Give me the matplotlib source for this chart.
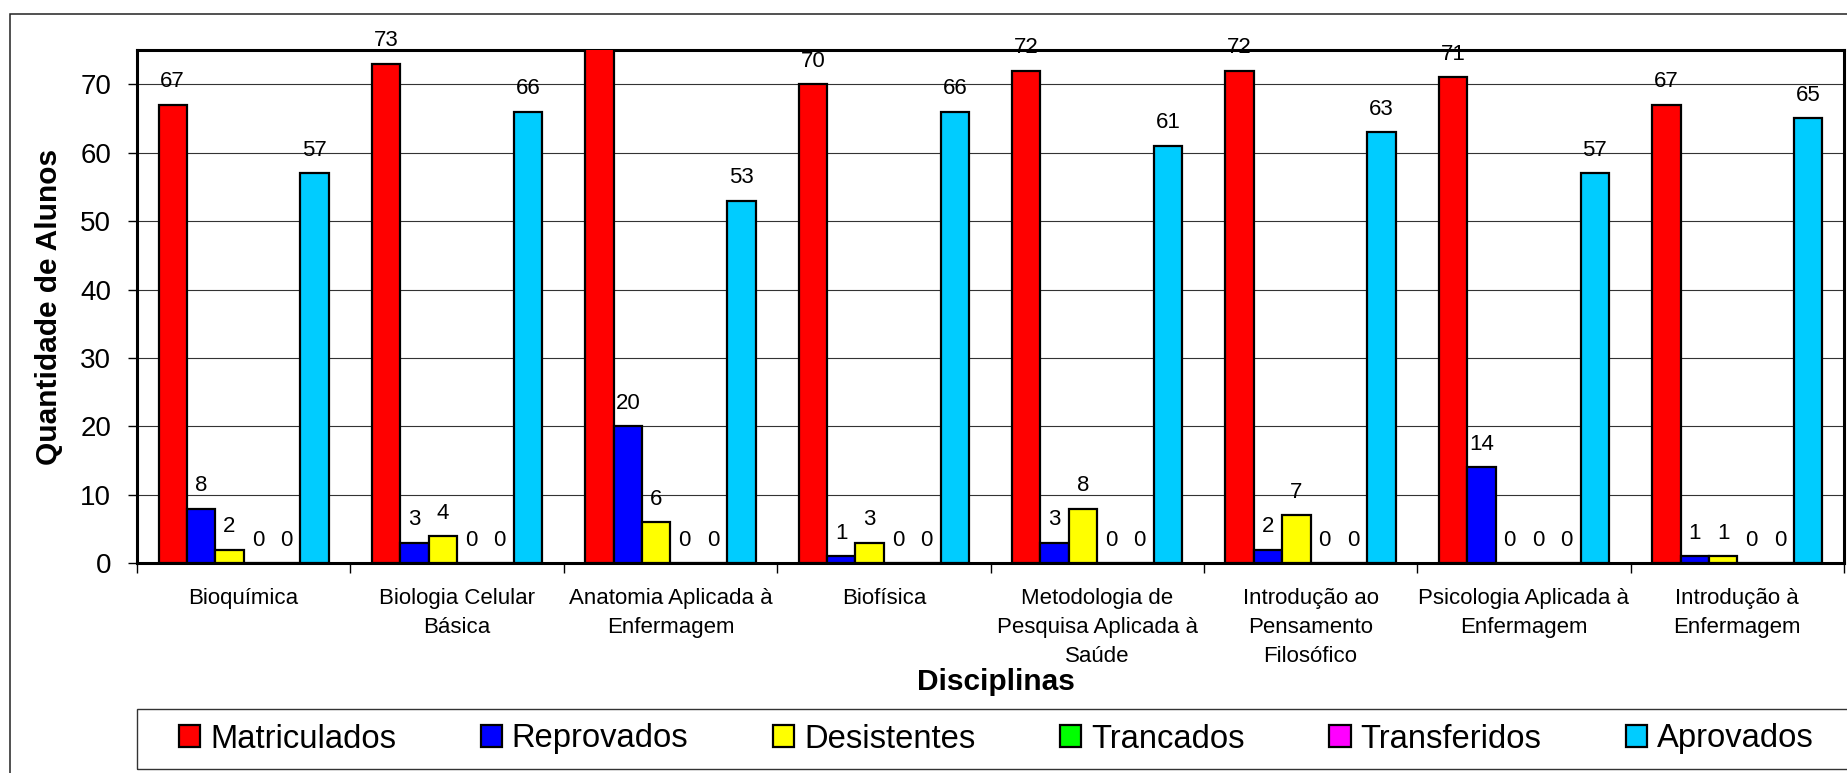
import matplotlib
matplotlib.use('Agg')
import matplotlib.pyplot as plt
from matplotlib.patches import Rectangle
import numpy as np

plt.rcParams['font.family'] = ['Liberation Sans', 'DejaVu Sans']

categories = ["Bioquímica", "Biologia Celular\nBásica", "Anatomia Aplicada à\nEnfermagem", "Biofísica",
              "Metodologia de\nPesquisa Aplicada à\nSaúde", "Introdução ao\nPensamento\nFilosófico",
              "Psicologia Aplicada à\nEnfermagem", "Introdução à\nEnfermagem"]
matriculados = [67, 73, 79, 70, 72, 72, 71, 67]
reprovados = [8, 3, 20, 1, 3, 2, 14, 1]
desistentes = [2, 4, 6, 3, 8, 7, 0, 1]
trancados = [0, 0, 0, 0, 0, 0, 0, 0]
transferidos = [0, 0, 0, 0, 0, 0, 0, 0]
aprovados = [57, 66, 53, 66, 61, 63, 57, 65]

series = [("Matriculados", matriculados, '#FF0000'),
          ("Reprovados", reprovados, '#0000FF'),
          ("Desistentes", desistentes, '#FFFF00'),
          ("Trancados", trancados, '#00FF00'),
          ("Transferidos", transferidos, '#FF00FF'),
          ("Aprovados", aprovados, '#00CCFF')]

W, H = 1847, 773
fig = plt.figure(figsize=(W / 100, H / 100), dpi=100)
ax = fig.add_axes([137 / W, 1 - 563.3 / H, (1844 - 137) / W, (563.3 - 50) / H])

ymax = 75
barW = 0.133
x = np.arange(len(categories)) + 0.5
for i, (name, vals, col) in enumerate(series):
    pos = x + (i - 2.5) * barW
    ax.bar(pos, vals, barW, color=col, edgecolor='black', linewidth=1.6, label=name, zorder=3)
    for px, v in zip(pos, vals):
        if v > ymax:
            continue  # label falls outside the chart
        ax.annotate(str(v), (px, v), xytext=(0, 12.5), textcoords='offset points',
                    ha='center', va='baseline', fontsize=16, annotation_clip=False)

ax.set_xlim(0, len(categories))
ax.set_ylim(0, ymax)
ax.set_yticks(range(0, 80, 10))
ax.yaxis.grid(True, color='0.2', linewidth=0.8, zorder=0)
ax.tick_params(axis='y', labelsize=20, length=6.5, width=1, pad=12, direction='out')

# boundaries as major ticks, names as minor ticks
ax.set_xticks(np.arange(len(categories) + 1))
ax.set_xticklabels([])
ax.set_xticks(x, minor=True)
ax.set_xticklabels(categories, minor=True, fontsize=16, linespacing=1.5)
ax.tick_params(axis='x', which='major', length=7, width=1, direction='out')
ax.tick_params(axis='x', which='minor', length=0, pad=18)

for s in ax.spines.values():
    s.set_linewidth(2.2)
    s.set_color('black')

ax.set_ylabel('Quantidade de Alunos', fontsize=21.5, fontweight='bold', va='center', ha='center')
ax.yaxis.set_label_coords((49 - 137) / 1707, 0.5)
ax.set_xlabel('Disciplinas', fontsize=21.5, fontweight='bold', va='center', ha='center')
ax.xaxis.set_label_coords((996 - 137) / 1707, (563.3 - 681.7) / 513.3)

# outer chart border and legend box
fig.patches.append(Rectangle((10 / W, -0.1), 1.2, 1 - 14 / H + 0.1, transform=fig.transFigure,
                             fill=False, edgecolor='#222222', linewidth=1.1))
fig.patches.append(Rectangle((137 / W, 1 - 769 / H), 1.2, 60 / H, transform=fig.transFigure,
                             fill=False, edgecolor='#333333', linewidth=1.0))

fig.legend(loc='center left', bbox_to_anchor=(179 / W, 1 - 739 / H), ncol=6, frameon=False,
           fontsize=23.6, borderpad=0, handlelength=0.65, handleheight=0.65,
           handletextpad=0.3, columnspacing=2.58, borderaxespad=0)

fig.savefig('out.png', dpi=100)
